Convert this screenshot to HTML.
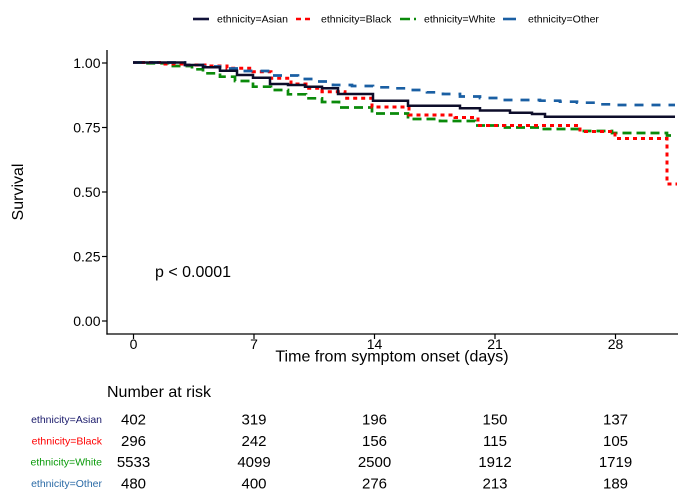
<!DOCTYPE html>
<html>
<head>
<meta charset="utf-8">
<style>
html,body{margin:0;padding:0;background:#fff;}
svg{display:block;}
text{font-family:"Liberation Sans",Arial,sans-serif;}
</style>
</head>
<body>
<svg width="700" height="496" viewBox="0 0 700 496" xmlns="http://www.w3.org/2000/svg">
<rect width="700" height="496" fill="#fff"/>

<!-- Legend -->
<line x1="193" y1="19" x2="209" y2="19" stroke="#11123a" stroke-width="2.6"/>
<text x="217" y="22.5" font-size="10.5" fill="#000">ethnicity=Asian</text>
<line x1="296" y1="19" x2="312" y2="19" stroke="#ff0000" stroke-width="2.6" stroke-dasharray="5,4"/>
<text x="321" y="22.5" font-size="10.5" fill="#000">ethnicity=Black</text>
<line x1="400" y1="19" x2="416" y2="19" stroke="#0a8a0a" stroke-width="2.6" stroke-dasharray="10,4"/>
<text x="424" y="22.5" font-size="10.5" fill="#000">ethnicity=White</text>
<line x1="503" y1="19" x2="516" y2="19" stroke="#1a5fa3" stroke-width="2.6"/>
<text x="528" y="22.5" font-size="10.5" fill="#000">ethnicity=Other</text>

<!-- Axes -->
<line x1="107" y1="50" x2="107" y2="334.6" stroke="#000" stroke-width="1.3"/>
<line x1="106.4" y1="334" x2="678" y2="334" stroke="#000" stroke-width="1.3"/>
<g stroke="#000" stroke-width="1.2">
<line x1="102" y1="63" x2="107" y2="63"/>
<line x1="102" y1="127.5" x2="107" y2="127.5"/>
<line x1="102" y1="192" x2="107" y2="192"/>
<line x1="102" y1="256.5" x2="107" y2="256.5"/>
<line x1="102" y1="321" x2="107" y2="321"/>
<line x1="133.5" y1="334" x2="133.5" y2="339"/>
<line x1="254" y1="334" x2="254" y2="339"/>
<line x1="374.5" y1="334" x2="374.5" y2="339"/>
<line x1="495" y1="334" x2="495" y2="339"/>
<line x1="615.5" y1="334" x2="615.5" y2="339"/>
</g>
<g font-size="14" fill="#000" text-anchor="end">
<text x="100.5" y="68">1.00</text>
<text x="100.5" y="132.5">0.75</text>
<text x="100.5" y="197">0.50</text>
<text x="100.5" y="261.5">0.25</text>
<text x="100.5" y="326">0.00</text>
</g>
<g font-size="14" fill="#000" text-anchor="middle">
<text x="133.5" y="349">0</text>
<text x="254" y="349">7</text>
<text x="374.5" y="349">14</text>
<text x="495" y="349">21</text>
<text x="615.5" y="349">28</text>
</g>
<text x="392" y="361.5" font-size="16" text-anchor="middle" fill="#000">Time from symptom onset (days)</text>
<text transform="translate(23,192) rotate(-90)" font-size="16" text-anchor="middle" fill="#000">Survival</text>

<!-- Curves -->
<path d="M133,62.5 H145 V63.3 H168 V66 H192 V69.3 H203 V73.3 H220 V76.7 H235 V81 H253 V86.7 H271 V90 H288 V94.3 H306 V98.3 H322 V102 H339 V107.5 H372 V113.5 H408 V119 H440 V121 H475 V125.5 H505 V127.5 H540 V129 H580 V131 H612 V133 H667 V135.5 H675" fill="none" stroke="#0a8a0a" stroke-width="2.7" stroke-dasharray="9,5"/>
<path d="M133,62.5 H163 V64 H185 V65 H205 V66 H227 V68.3 H253 V71.7 H271 V78.3 H291 V84 H306 V88.3 H322 V91.7 H345 V98.3 H372 V107 H409 V115 H455 V117.5 H478 V125.5 H580 V131.5 H615 V138.5 H667 V184 H677" fill="none" stroke="#ff0000" stroke-width="3" stroke-dasharray="4,4"/>
<path d="M133,62.5 H185 V65 H203 V66.5 H220 V68.5 H240 V71 H268 V75.5 H298 V79 H317 V81.5 H333 V85 H352 V86 H373 V87.3 H392 V88.3 H408 V90 H427 V92.3 H443 V94 H460 V96.5 H480 V98 H500 V100 H540 V100.7 H560 V101.7 H577 V102.7 H595 V104.3 H613 V105 H675" fill="none" stroke="#1a5fa3" stroke-width="2.7" stroke-dasharray="9,8"/>
<path d="M133,62.5 H185 V65 H203 V67.3 H220 V70.7 H237 V75 H253 V77.7 H270 V84 H288 V85 H305 V86.7 H322 V88.3 H338 V94 H373 V100.7 H408 V105.7 H460 V108.3 H480 V110.5 H510 V112.7 H532 V114 H545 V116.7 H675" fill="none" stroke="#0d0d2a" stroke-width="2.5"/>

<text x="155" y="277" font-size="16" fill="#000">p &lt; 0.0001</text>

<!-- Risk table -->
<text x="107" y="397" font-size="16" fill="#000">Number at risk</text>
<g font-size="10.5" text-anchor="end">
<text x="102" y="423" fill="#1a1a6b">ethnicity=Asian</text>
<text x="102" y="444.5" fill="#ff0000">ethnicity=Black</text>
<text x="102" y="465.5" fill="#0a9a0a">ethnicity=White</text>
<text x="102" y="487" fill="#2a6aa6">ethnicity=Other</text>
</g>
<g font-size="15" fill="#000" text-anchor="middle">
<text x="133.5" y="424.5">402</text>
<text x="254" y="424.5">319</text>
<text x="374.5" y="424.5">196</text>
<text x="495" y="424.5">150</text>
<text x="615.5" y="424.5">137</text>
<text x="133.5" y="446">296</text>
<text x="254" y="446">242</text>
<text x="374.5" y="446">156</text>
<text x="495" y="446">115</text>
<text x="615.5" y="446">105</text>
<text x="133.5" y="467">5533</text>
<text x="254" y="467">4099</text>
<text x="374.5" y="467">2500</text>
<text x="495" y="467">1912</text>
<text x="615.5" y="467">1719</text>
<text x="133.5" y="488.5">480</text>
<text x="254" y="488.5">400</text>
<text x="374.5" y="488.5">276</text>
<text x="495" y="488.5">213</text>
<text x="615.5" y="488.5">189</text>
</g>
</svg>
</body>
</html>
